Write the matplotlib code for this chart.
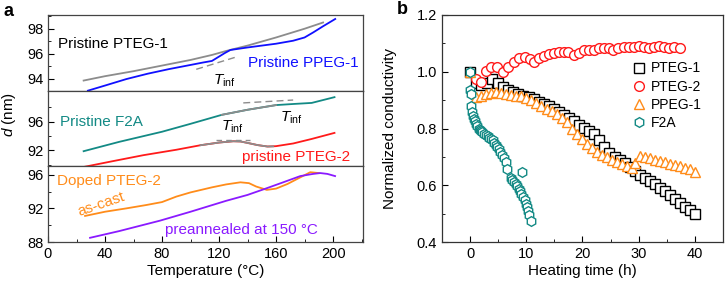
import numpy as np
import matplotlib
matplotlib.use("Agg")
import matplotlib.pyplot as plt
from matplotlib.ticker import MultipleLocator, FixedLocator

plt.rcParams['font.family'] = ['Liberation Sans', 'DejaVu Sans']
plt.rcParams['mathtext.fontset'] = 'custom'
plt.rcParams['mathtext.rm'] = 'Liberation Sans'
plt.rcParams['mathtext.it'] = 'Liberation Sans:italic'

#colours
c_gray = '#8c8c8c'
c_blue = '#1010ff'
c_teal = '#138a85'
c_red = '#ff1a1a'
c_orange = '#ff8c1a'
c_purple = '#8a1aff'

# ---- panel a data (temperature in C, d in nm) ----
# top: pristine PTEG-1 (gray) and PPEG-1 (blue)
t_pteg1 = [25, 40, 60, 80, 100, 115, 125, 140, 160, 180, 193]
d_pteg1 = [93.85, 94.2, 94.6, 95.05, 95.5, 95.9, 96.22, 96.65, 97.3, 98.0, 98.5]
t_ppeg1 = [28, 40, 55, 70, 85, 100, 109, 115, 119, 124, 128, 140, 150, 160, 172, 180, 186, 193, 201.5]
d_ppeg1 = [93.04, 93.45, 93.97, 94.4, 94.77, 95.1, 95.3, 95.42, 95.7, 96.05, 96.3, 96.5, 96.65, 96.8, 97.04, 97.3, 97.7, 98.2, 98.78]
t_tan1 = [104, 131]
d_tan1 = [94.75, 95.7]

# middle: pristine F2A (teal) and PTEG-2 (red)
t_f2a = [25, 50, 80, 100, 122, 140, 160, 172, 185, 192, 201]
d_f2a = [91.9, 93.2, 94.6, 95.7, 96.95, 97.65, 98.3, 98.45, 98.6, 98.95, 99.4]
t_f2a_fit = [122, 140, 160]
d_f2a_fit = [96.95, 97.65, 98.3]
t_tan2 = [137, 172]
d_tan2 = [98.6, 99.0]
t_pteg2 = [26, 45, 67, 90, 107, 120, 130, 135, 140, 147, 154, 160, 172, 185, 201]
d_pteg2 = [89.75, 90.5, 91.35, 92.1, 92.73, 93.1, 93.28, 93.25, 93.05, 92.75, 92.55, 92.6, 92.97, 93.6, 94.44]
t_pteg2_fit = [107, 120, 130, 135, 140, 147, 154, 158]
d_pteg2_fit = [92.73, 93.1, 93.28, 93.25, 93.05, 92.75, 92.55, 92.57]
t_tan3 = [118, 142]
d_tan3 = [93.45, 93.45]

# bottom: doped PTEG-2, as-cast (orange) and preannealed (purple)
t_ascast = [26, 40, 55, 69, 80, 90, 100, 115, 125, 135, 141, 146, 153.5, 160, 168, 176, 184, 190]
d_ascast = [91.1, 91.6, 92.0, 92.4, 92.75, 93.4, 93.9, 94.5, 94.85, 95.1, 95.0, 94.6, 94.2, 94.35, 94.9, 95.6, 96.3, 96.2]
t_prean = [29.5, 50, 78.6, 100, 125, 140, 153.5, 165, 177, 186, 191, 196, 201.4]
d_prean = [88.5, 89.3, 90.54, 91.6, 92.9, 93.6, 94.4, 95.1, 95.84, 96.1, 96.2, 96.1, 95.84]

# ---- panel b data (heating time in h, normalized conductivity) ----
h_pteg1 = [0, 1.0, 2.0, 3.0, 3.9, 4.9, 5.9, 6.8, 7.7, 8.6, 9.5, 10.4, 11.3, 12.2, 13.1, 14.0, 14.9,
           15.8, 16.7, 17.6, 18.5, 19.4, 20.3, 21.2, 22.1, 23.0, 23.9, 24.8, 25.7, 26.6, 27.5, 28.4,
           29.3, 30.2, 31.1, 32.0, 32.9, 33.8, 34.7, 35.6, 36.5, 37.4, 38.3, 39.2, 40.0]
s_pteg1 = [1.0, 0.960, 0.955, 0.962, 0.976, 0.960, 0.948, 0.936, 0.929, 0.922, 0.916, 0.910, 0.903,
           0.895, 0.887, 0.878, 0.868, 0.858, 0.848, 0.838, 0.826, 0.814, 0.803, 0.792, 0.781, 0.760,
           0.735, 0.712, 0.700, 0.690, 0.678, 0.664, 0.650, 0.637, 0.626, 0.614, 0.603, 0.591, 0.579,
           0.566, 0.552, 0.538, 0.525, 0.512, 0.500]
h_pteg2 = [1.0, 1.9, 2.8, 3.8, 4.8, 5.8, 6.8, 7.8, 8.7, 9.7, 10.6, 11.4, 12.2, 13.1, 14.0, 14.9, 15.8,
           16.7, 17.5, 18.4, 19.3, 20.2, 21.1, 22.0, 22.9, 23.8, 24.7, 25.5, 26.4, 27.3, 28.2, 29.1,
           30.0, 30.9, 31.8, 32.7, 33.6, 34.5, 35.4, 36.3, 37.4]
s_pteg2 = [0.975, 0.964, 1.003, 1.015, 1.015, 0.999, 1.015, 1.035, 1.047, 1.053, 1.044, 1.035, 1.047,
           1.055, 1.062, 1.067, 1.070, 1.070, 1.070, 1.058, 1.067, 1.076, 1.078, 1.078, 1.082, 1.085,
           1.082, 1.078, 1.085, 1.088, 1.088, 1.088, 1.090, 1.088, 1.085, 1.088, 1.090, 1.087, 1.085,
           1.087, 1.085]
h_ppeg1 = [0, 1.0, 1.9, 2.8, 3.7, 4.6, 5.5, 6.4, 7.3, 8.2, 9.1, 10.0, 10.9, 11.8, 12.7, 13.6, 14.5,
           15.4, 16.3, 17.2, 18.1, 19.0, 19.9, 20.8, 21.7, 22.6, 23.5, 24.4, 25.3, 26.1, 27.0, 27.9,
           28.8, 29.4, 30.3, 31.1, 32.0, 32.9, 33.8, 34.7, 35.6, 36.5, 37.4, 38.3, 39.1, 40.0]
s_ppeg1 = [1.0, 0.911, 0.915, 0.920, 0.925, 0.927, 0.925, 0.922, 0.919, 0.916, 0.913, 0.908, 0.900,
           0.890, 0.880, 0.870, 0.860, 0.850, 0.838, 0.822, 0.800, 0.780, 0.763, 0.745, 0.730, 0.718,
           0.708, 0.698, 0.690, 0.682, 0.675, 0.667, 0.662, 0.680, 0.704, 0.700, 0.695, 0.690, 0.686,
           0.681, 0.676, 0.671, 0.667, 0.662, 0.656, 0.648]
h_f2a = [0, 0.05, 0.1, 0.15, 0.25, 0.5, 0.7, 0.9, 1.1, 1.3, 1.5, 1.7, 1.9, 2.2, 2.5, 2.8, 3.1, 3.4,
         3.7, 4.0, 4.3, 4.6, 4.85, 5.1, 5.4, 5.7, 6.0, 6.3, 6.6, 7.2, 7.5, 7.8, 8.1, 8.4, 8.7, 8.9,
         9.1, 9.3, 9.5, 9.7, 9.9, 10.1, 10.3, 10.5, 10.8]
s_f2a = [1.0, 0.935, 0.92, 0.878, 0.858, 0.845, 0.835, 0.825, 0.815, 0.808, 0.80, 0.795, 0.79, 0.787,
         0.782, 0.778, 0.772, 0.768, 0.762, 0.758, 0.750, 0.742, 0.734, 0.728, 0.716, 0.705, 0.695,
         0.681, 0.657, 0.625, 0.618, 0.612, 0.604, 0.598, 0.588, 0.578, 0.568, 0.645, 0.558, 0.548,
         0.535, 0.522, 0.510, 0.495, 0.474]

fig = plt.figure(figsize=(7.25, 2.85), dpi=100)

W, H = 725.0, 285.0
a_left, a_right = 48 / W, 363 / W
top, bottom = 1 - 15 / H, 1 - 242 / H
hh = (top - bottom) / 3
ax_top = fig.add_axes([a_left, bottom + 2 * hh, a_right - a_left, hh])
ax_mid = fig.add_axes([a_left, bottom + hh, a_right - a_left, hh])
ax_bot = fig.add_axes([a_left, bottom, a_right - a_left, hh])

lw = 1.3
ax_top.plot(t_pteg1, d_pteg1, color=c_gray, lw=lw)
ax_top.plot(t_ppeg1, d_ppeg1, color=c_blue, lw=lw)
ax_top.plot(t_tan1, d_tan1, color=c_gray, lw=1.0, ls=(0, (5, 3)))
ax_top.set_ylim(93.04, 99.1)
ax_top.yaxis.set_major_locator(FixedLocator([94, 96, 98]))
ax_top.yaxis.set_minor_locator(FixedLocator([93, 95, 97, 99]))
ax_top.text(7, 96.8, 'Pristine PTEG-1', color='black', fontsize=11, va='center')
ax_top.text(140, 95.28, 'Pristine PPEG-1', color=c_blue, fontsize=11, va='center')
ax_top.text(124, 93.85, r'$T_{\mathrm{inf}}$', fontsize=11, ha='center', va='center')

ax_mid.plot(t_f2a, d_f2a, color=c_teal, lw=lw)
ax_mid.plot(t_f2a_fit, d_f2a_fit, color=c_gray, lw=lw)
ax_mid.plot(t_tan2, d_tan2, color=c_gray, lw=1.0, ls=(0, (5, 3)))
ax_mid.plot(t_pteg2, d_pteg2, color=c_red, lw=lw)
ax_mid.plot(t_pteg2_fit, d_pteg2_fit, color=c_gray, lw=lw)
ax_mid.plot(t_tan3, d_tan3, color=c_gray, lw=1.0, ls=(0, (4, 3)))
ax_mid.set_ylim(89.8, 100.3)
ax_mid.yaxis.set_major_locator(FixedLocator([92, 96]))
ax_mid.yaxis.set_minor_locator(FixedLocator([90, 94, 98]))
ax_mid.text(8.4, 95.95, 'Pristine F2A', color=c_teal, fontsize=11, va='center')
ax_mid.text(136, 91.1, 'pristine PTEG-2', color=c_red, fontsize=11, va='center')
ax_mid.text(129, 95.3, r'$T_{\mathrm{inf}}$', fontsize=11, ha='center', va='center')
ax_mid.text(171, 96.5, r'$T_{\mathrm{inf}}$', fontsize=11, ha='center', va='center')

ax_bot.plot(t_ascast, d_ascast, color=c_orange, lw=lw)
ax_bot.plot(t_prean, d_prean, color=c_purple, lw=lw)
ax_bot.set_ylim(88, 97)
ax_bot.yaxis.set_major_locator(FixedLocator([88, 92, 96]))
ax_bot.yaxis.set_minor_locator(FixedLocator([90, 94]))
ax_bot.text(6, 95.3, 'Doped PTEG-2', color=c_orange, fontsize=11, va='center')
ax_bot.text(37, 92.5, 'as-cast', color=c_orange, fontsize=11, ha='center', va='center', rotation=19)
ax_bot.text(82, 89.4, 'preannealed at 150 \u00b0C', color=c_purple, fontsize=11, va='center')
ax_bot.set_xlabel('Temperature (\u00b0C)', fontsize=11, labelpad=2)

for ax in (ax_top, ax_mid, ax_bot):
    ax.set_xlim(0, 221)
    ax.xaxis.set_major_locator(MultipleLocator(40))
    ax.xaxis.set_minor_locator(MultipleLocator(20))
    ax.tick_params(which='both', direction='in', labelsize=10.5, top=False, right=False)
    ax.tick_params(which='major', length=4)
    ax.tick_params(which='minor', length=2.5)
    for sp in ax.spines.values():
        sp.set_color('#444444')
        sp.set_linewidth(0.9)
for ax in (ax_top, ax_mid):
    ax.tick_params(axis='x', which='both', length=0, labelbottom=False)

fig.text(0.013, 0.6, '$d$ (nm)', rotation=90, fontsize=11, ha='center', va='center')

# ---- panel b ----
axb = fig.add_axes([442 / W, bottom, 281 / W, top - bottom])
mk = dict(mfc='white', ls='none', mew=1.0)
axb.plot(h_pteg1, s_pteg1, marker='s', ms=6.5, mec='black', label='PTEG-1', **mk)
axb.plot(h_pteg2, s_pteg2, marker='o', ms=7, mec=c_red, label='PTEG-2', **mk)
axb.plot(h_ppeg1, s_ppeg1, marker='^', ms=7, mec=c_orange, label='PPEG-1', **mk)
axb.plot(h_f2a, s_f2a, marker='h', ms=7, mec=c_teal, label='F2A', **mk)
axb.set_xlim(-5, 45)
axb.set_ylim(0.4, 1.2)
axb.xaxis.set_major_locator(MultipleLocator(10))
axb.xaxis.set_minor_locator(MultipleLocator(5))
axb.yaxis.set_major_locator(MultipleLocator(0.2))
axb.yaxis.set_minor_locator(MultipleLocator(0.1))
axb.tick_params(which='both', direction='in', labelsize=10.5)
axb.tick_params(which='major', length=4)
axb.tick_params(which='minor', length=2.5)
for sp in axb.spines.values():
    sp.set_color('#333333')
    sp.set_linewidth(0.9)
axb.set_xlabel('Heating time (h)', fontsize=11, labelpad=2)
axb.set_ylabel('Normalized conductivity', fontsize=11)
axb.yaxis.set_label_coords(-0.16, 0.5)
axb.legend(loc='upper left', bbox_to_anchor=(0.66, 0.82), frameon=False, fontsize=10,
           handlelength=0.8, handletextpad=0.5, labelspacing=0.3, borderaxespad=0)

fig.text(4 / W, 1 - 12 / H, 'a', fontsize=13, fontweight='bold', va='center')
fig.text(397 / W, 1 - 10 / H, 'b', fontsize=13, fontweight='bold', va='center')

fig.savefig('out.png', dpi=100)
